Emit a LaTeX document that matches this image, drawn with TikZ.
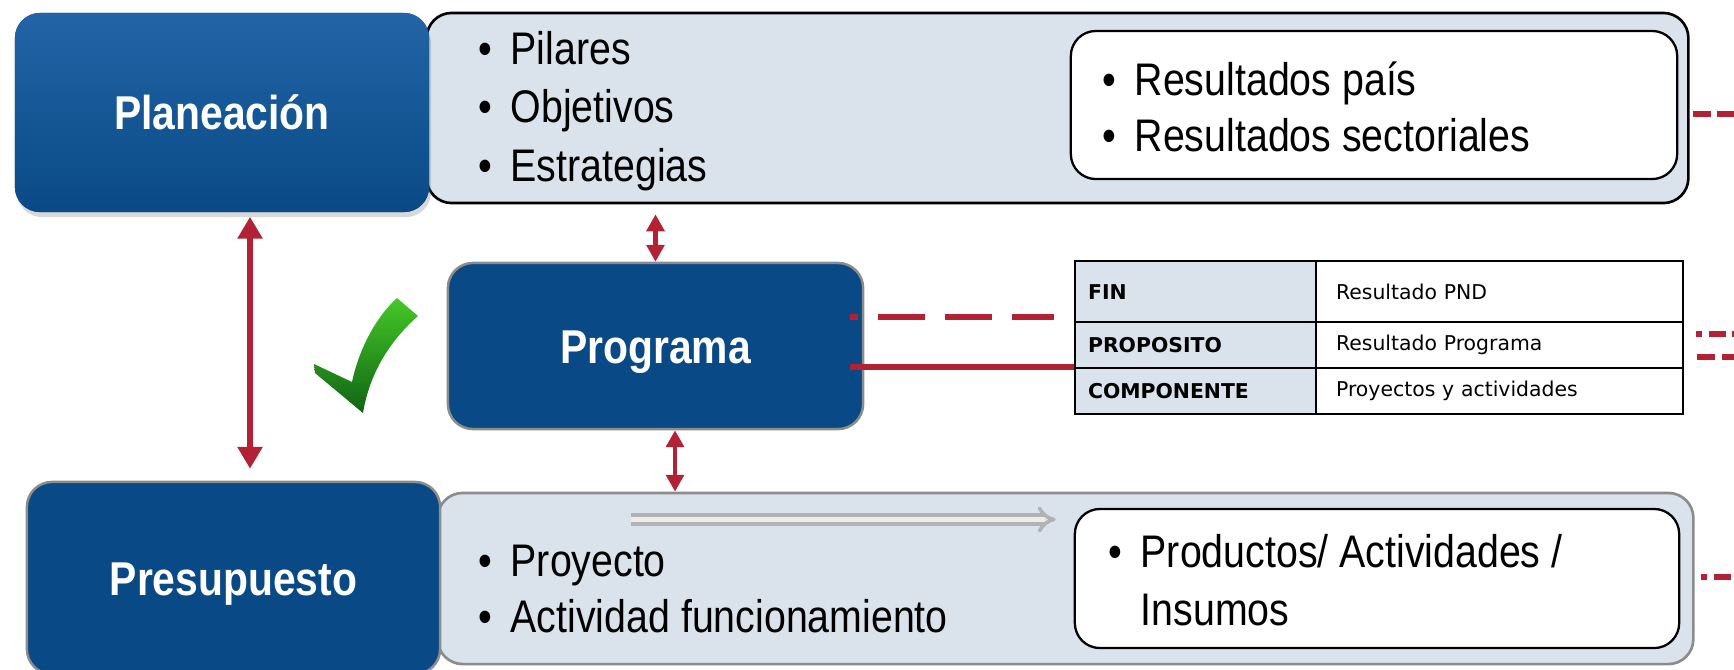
\documentclass[tikz,border=0pt]{standalone}
\usepackage{fontspec}
\setmainfont{Liberation Sans}
\newfontfamily\narrowfont{Liberation Sans}[FakeStretch=0.86]
\newfontfamily\tablefont{DejaVu Sans}
\usetikzlibrary{arrows.meta,shadows}

\definecolor{dnpblue}{RGB}{9,74,134}
\definecolor{dnplight}{RGB}{34,100,166}
\definecolor{panelfill}{RGB}{218,227,236}
\definecolor{dnpred}{RGB}{178,34,52}
\definecolor{boxgrey}{RGB}{140,140,140}
\definecolor{checktop}{RGB}{70,200,40}
\definecolor{checkbot}{RGB}{15,100,20}

\newcommand{\itm}[1]{\makebox[0.32cm][l]{\textbullet}#1}

\begin{document}
\begin{tikzpicture}[x=0.01cm,y=-0.01cm]
\tikzstyle{every node}+=[inner sep=0pt]
\tikzstyle{titlebox}=[rectangle,rounded corners=0.25cm,fill=dnpblue,text=white,text height=0.34cm,text depth=0pt,font=\narrowfont\bfseries\fontsize{13.5}{16}\selectfont]
\tikzstyle{panel}=[rectangle,rounded corners=0.25cm,fill=panelfill,line width=0.75pt]
\tikzstyle{whitebox}=[rectangle,rounded corners=0.25cm,fill=white,draw=black,line width=0.65pt]
\tikzstyle{bullets}=[anchor=west,align=left,font=\narrowfont\fontsize{13}{16}\selectfont]
\tikzstyle{keycell}=[draw=black,line width=0.6pt,fill=panelfill,anchor=north west,inner xsep=0.13cm,text width=2.15cm,align=left,font=\tablefont\bfseries\fontsize{5.8}{7}\selectfont]
\tikzstyle{valcell}=[draw=black,line width=0.6pt,fill=white,anchor=north west,inner xsep=0.2cm,text width=3.27cm,align=left,font=\tablefont\fontsize{5.8}{7}\selectfont]
\tikzstyle{redarrow}=[draw=dnpred,line width=1.7pt,{Triangle[length=6.2pt,width=6.8pt]}-{Triangle[length=6.2pt,width=6.8pt]}]
\tikzstyle{smallarrow}=[draw=dnpred,line width=1.2pt,{Triangle[length=4.8pt,width=5pt]}-{Triangle[length=4.8pt,width=5pt]}]
\tikzstyle{redline}=[draw=dnpred,line width=1.6pt]
\tikzstyle{greyflow}=[draw=gray!60,double=gray!15,double distance=0.05cm,line width=1pt,-{Implies}]
\useasboundingbox (0,0) rectangle (1734,669);
\clip (0,0) rectangle (1734,669);
\fill[white] (0,0) rectangle (1734,669);

\node[panel,draw=black,minimum width=12.61cm,minimum height=1.90cm] (planpanel) at (1057.5,108) {};
\node[titlebox,top color=dnplight,middle color=dnpblue,bottom color=dnpblue,drop shadow={shadow xshift=0.02cm,shadow yshift=-0.05cm,opacity=0.3},minimum width=4.14cm,minimum height=1.99cm] (plan) at (222,112.5) {Planeación};
\node[whitebox,minimum width=6.06cm,minimum height=1.48cm] (planres) at (1374,105) {};
\node[bullets,font=\narrowfont\fontsize{13}{16.6}\selectfont] (planitems) at (478,111) {\itm{Pilares}\\\itm{Objetivos}\\\itm{Estrategias}};
\node[bullets] (planresitems) at (1102,107) {\itm{Resultados país}\\\itm{Resultados sectoriales}};

\node[titlebox,draw=boxgrey,line width=0.7pt,minimum width=4.15cm,minimum height=1.66cm] (prog) at (655.5,346) {Programa};

\node[keycell,minimum height=0.61cm] (finkey) at (1074,260) {FIN};
\node[valcell,minimum height=0.61cm] (finval) at (1315,260) {Resultado PND};
\node[keycell,minimum height=0.46cm] (propkey) at (1074,321) {PROPOSITO};
\node[valcell,minimum height=0.46cm] (propval) at (1315,321) {Resultado Programa};
\node[keycell,minimum height=0.46cm] (compkey) at (1074,367) {COMPONENTE};
\node[valcell,minimum height=0.46cm] (compval) at (1315,367) {Proyectos y actividades};

\node[panel,draw=boxgrey,minimum width=12.55cm,minimum height=1.71cm] (prespanel) at (1065.5,578.5) {};
\node[titlebox,draw=boxgrey,line width=0.7pt,minimum width=4.13cm,minimum height=1.92cm] (pres) at (233.5,578) {Presupuesto};
\node[whitebox,minimum width=6.04cm,minimum height=1.39cm] (presres) at (1377,578.5) {};
\node[bullets] (presitems) at (478,589) {\itm{Proyecto}\\\itm{Actividad funcionamiento}};
\node[bullets,font=\narrowfont\fontsize{13}{16.6}\selectfont] (presresitems) at (1108,580) {\itm{Productos/ Actividades /}\\\hspace*{0.32cm}Insumos};

\draw[redarrow,shorten <=0.04cm,shorten >=0.12cm] ([xshift=0.28cm]plan.south) -- ([xshift=0.28cm]plan.south |- pres.north);
\draw[smallarrow,shorten >=0.1cm] (prog.north) -- (prog.north |- planpanel.south);
\draw[smallarrow] ([xshift=0.195cm]prog.south) -- ([xshift=0.195cm]prog.south |- prespanel.north);

\draw[redline,dash pattern=on 0.47cm off 0.2cm,dash phase=0.39cm,shorten >=0.2cm] ([xshift=-0.14cm,yshift=0.29cm]prog.east) -- ([yshift=0.29cm]prog.east -| finkey.west);
\draw[redline,line width=1.8pt] ([xshift=-0.14cm,yshift=-0.21cm]prog.east) -- ([yshift=-0.21cm]prog.east -| compkey.west);

\coordinate (edgeA) at (1734,114);
\coordinate (edgeB) at (1734,334);
\coordinate (edgeC) at (1734,357);
\coordinate (edgeD) at (1734,577);
\draw[redline,dash pattern=on 0.18cm off 0.06cm,shorten <=0.03cm] (planpanel.east |- edgeA) -- (edgeA);
\draw[redline,dash pattern=on 0.06cm off 0.07cm on 0.17cm off 0.06cm,shorten <=0.12cm] (propval.east |- edgeB) -- (edgeB);
\draw[redline,dash pattern=on 0.18cm off 0.07cm,shorten <=0.13cm] (propval.east |- edgeC) -- (edgeC);
\draw[redline,dash pattern=on 0.06cm off 0.07cm on 0.17cm off 0.06cm,shorten <=0.06cm] (prespanel.east |- edgeD) -- (edgeD);

\coordinate (flowstart) at (631,519.5);
\draw[greyflow,shorten >=0.18cm] (flowstart) -- (flowstart -| presres.west);

\shade[top color=checktop,bottom color=checkbot] (314,364) -- (352,382) .. controls (359,349) and (376,317) .. (397,298) -- (418,316) .. controls (393,338) and (370,370) .. (363,413) -- (315,373) -- cycle;
\end{tikzpicture}
\end{document}
